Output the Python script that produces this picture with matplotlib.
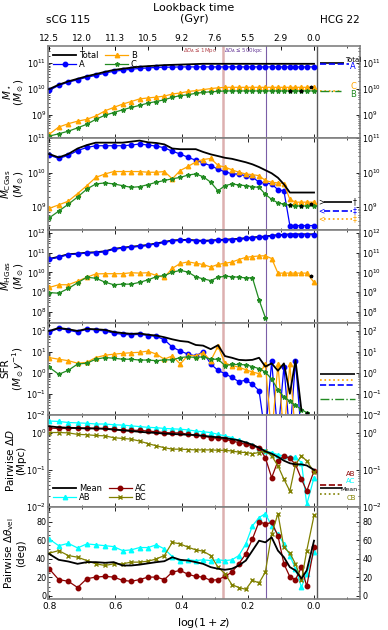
import numpy as np
import matplotlib
matplotlib.use("Agg")
import matplotlib.pyplot as plt
from matplotlib.ticker import LogLocator, NullFormatter, MultipleLocator

# snapshot positions in log(1+z)
logz = [0.800, 0.771, 0.742, 0.714, 0.686, 0.659, 0.631, 0.605, 0.578, 0.552,
        0.527, 0.501, 0.476, 0.452, 0.428, 0.404, 0.380, 0.357, 0.335, 0.312,
        0.290, 0.269, 0.248, 0.227, 0.206, 0.186, 0.166, 0.147, 0.128, 0.109,
        0.091, 0.073, 0.056, 0.038, 0.022, 0.000]
nan = np.nan

# --- stellar mass (log10 Msun)
mstar_tot = [10.00, 10.17, 10.30, 10.40, 10.50, 10.58, 10.67, 10.74, 10.79, 10.83,
             10.87, 10.89, 10.91, 10.93, 10.94, 10.95, 10.96, 10.97, 10.98, 10.98,
             10.98, 10.98, 10.98, 10.98, 10.98, 10.98, 10.98, 10.98, 10.98, 10.98,
             10.98, 10.98, 10.98, 10.98, 10.98, 10.98]
mstar_A = [9.95, 10.14, 10.27, 10.36, 10.46, 10.53, 10.62, 10.69, 10.73, 10.77,
           10.80, 10.82, 10.84, 10.85, 10.85, 10.86, 10.86, 10.86, 10.86, 10.86,
           10.86, 10.86, 10.86, 10.86, 10.86, 10.86, 10.86, 10.86, 10.86, 10.86,
           10.86, 10.86, 10.86, 10.86, 10.86, 10.86]
mstar_B = [8.25, 8.53, 8.66, 8.76, 8.83, 8.96, 9.16, 9.29, 9.42, 9.52,
           9.62, 9.66, 9.69, 9.73, 9.81, 9.85, 9.91, 9.94, 9.98, 10.02,
           10.05, 10.07, 10.07, 10.07, 10.07, 10.07, 10.07, 10.07, 10.07, 10.07,
           10.07, 10.07, 10.07, 10.07, 10.07, 10.07]
mstar_C = [8.18, 8.27, 8.37, 8.50, 8.64, 8.83, 8.99, 9.09, 9.20, 9.29,
           9.37, 9.46, 9.52, 9.59, 9.68, 9.75, 9.78, 9.84, 9.87, 9.90,
           9.91, 9.93, 9.93, 9.93, 9.93, 9.93, 9.93, 9.93, 9.93, 9.93,
           9.93, 9.93, 9.93, 9.93, 9.93, 9.93]

# --- cold gas mass
cgas_tot = [10.54, 10.44, 10.54, 10.70, 10.80, 10.87, 10.87, 10.87, 10.87, 10.90,
            10.93, 10.88, 10.86, 10.82, 10.70, 10.68, 10.68, 10.68, 10.60, 10.53,
            10.48, 10.43, 10.40, 10.35, 10.30, 10.24, 10.16, 10.07, 9.98, 9.85,
            9.66, 9.42, 9.42, 9.42, 9.42, 9.42]
cgas_A = [10.51, 10.41, 10.50, 10.64, 10.73, 10.78, 10.78, 10.78, 10.78, 10.80,
          10.83, 10.80, 10.77, 10.72, 10.62, 10.54, 10.44, 10.36, 10.28, 10.20,
          10.10, 10.02, 9.97, 9.95, 9.91, 9.87, 9.72, 9.70, 9.67, 9.50,
          9.47, 8.46, 8.46, 8.46, 8.46, 8.46]
cgas_B = [8.96, 9.06, 9.17, 9.39, 9.62, 9.86, 9.96, 10.03, 10.03, 10.03,
          10.03, 10.01, 10.01, 10.03, 9.82, 10.06, 10.18, 10.31, 10.38, 10.41,
          10.21, 10.16, 10.08, 10.01, 9.96, 9.94, 9.91, 9.77, 9.72, 9.70,
          9.68, 9.22, 9.14, 9.14, 9.14, 9.14]
cgas_C = [8.68, 8.88, 9.08, 9.29, 9.52, 9.67, 9.70, 9.67, 9.62, 9.57,
          9.59, 9.65, 9.72, 9.77, 9.82, 9.86, 9.93, 9.96, 9.88, 9.72,
          9.47, 9.62, 9.67, 9.64, 9.62, 9.59, 9.57, 9.37, 9.22, 9.12,
          9.08, 9.05, 9.03, 9.03, 9.03, 9.03]

# --- hot gas mass
hgas_tot = [10.68, 10.79, 10.92, 10.95, 11.00, 11.02, 11.07, 11.19, 11.25, 11.30,
            11.34, 11.39, 11.47, 11.54, 11.62, 11.64, 11.65, 11.62, 11.60, 11.62,
            11.64, 11.66, 11.68, 11.70, 11.74, 11.77, 11.80, 11.82, 11.86, 11.89,
            11.91, 11.93, 11.93, 11.93, 11.93, 11.93]
hgas_A = [10.66, 10.77, 10.90, 10.93, 10.98, 11.00, 11.05, 11.17, 11.23, 11.28,
          11.32, 11.37, 11.45, 11.52, 11.60, 11.62, 11.63, 11.60, 11.58, 11.60,
          11.62, 11.64, 11.66, 11.68, 11.72, 11.75, 11.78, 11.80, 11.85, 11.88,
          11.90, 11.92, 11.92, 11.92, 11.92, 11.92]
hgas_B = [9.23, 9.37, 9.37, 9.55, 9.75, 9.92, 9.93, 9.93, 9.93, 9.98,
          9.96, 9.98, 9.84, 9.75, 10.20, 10.45, 10.53, 10.46, 10.40, 10.27,
          10.40, 10.46, 10.52, 10.65, 10.76, 10.80, 10.83, 10.84, 10.70, 9.96,
          9.96, 9.96, 9.96, 9.96, 9.96, 9.49]
hgas_C = [8.97, 8.94, 9.18, 9.47, 9.75, 9.70, 9.50, 9.37, 9.40, 9.40,
          9.49, 9.62, 9.78, 9.84, 10.00, 10.10, 10.01, 9.77, 9.67, 9.58,
          9.75, 9.80, 9.78, 9.75, 9.72, 9.72, 8.60, 7.70, nan, nan,
          nan, nan, nan, nan, nan, nan]

# --- star formation rate (log10 Msun/yr, -3 = no SF)
sfr_tot = [2.00, 2.14, 2.08, 2.00, 2.10, 2.08, 2.05, 1.95, 1.90, 1.86,
           1.88, 1.82, 1.78, 1.70, 1.60, 1.52, 1.48, 1.33, 1.30, 1.13,
           1.32, 0.80, 0.72, 0.62, 0.60, 0.62, 0.72, 0.30, 0.45, 0.10,
           0.45, -1.00, 0.60, -1.80, nan, nan]
sfr_A = [1.94, 2.12, 2.04, 1.94, 2.09, 2.04, 2.00, 1.89, 1.84, 1.81,
         1.84, 1.78, 1.74, 1.58, 1.23, 1.04, 0.89, 0.81, 1.01, 0.42,
         0.12, -0.04, -0.22, -0.42, -0.35, -0.55, -0.85, -3, 0.55, -3,
         0.30, -3, 0.55, -3, -3, -3]
sfr_B = [0.73, 0.65, 0.58, 0.46, 0.50, 0.73, 0.84, 0.89, 0.93, 0.96,
         0.98, 1.04, 0.89, 0.65, 0.81, 0.42, 0.85, 0.81, 0.96, 0.58,
         1.27, 0.46, 0.35, 0.27, 0.15, 0.04, -0.04, 0.40, -3, 0.40,
         -3, 0.40, -3, -3, nan, nan]
sfr_C = [0.27, -0.07, 0.12, 0.42, 0.46, 0.65, 0.73, 0.70, 0.65, 0.65,
         0.61, 0.61, 0.58, 0.62, 0.62, 0.73, 0.77, 0.73, 0.77, 0.65,
         0.65, 0.35, 0.40, 0.40, 0.38, 0.30, 0.20, 0.04, -0.30, -0.80,
         -1.15, -1.35, -1.55, -1.75, -1.90, nan]

# --- pairwise distance (log10 Mpc)
dd_mean = [0.18, 0.15, 0.14, 0.13, 0.12, 0.12, 0.11, 0.09, 0.07, 0.05,
           0.03, 0.01, 0.00, -0.02, -0.03, -0.04, -0.05, -0.06, -0.08, -0.10,
           -0.12, -0.14, -0.17, -0.20, -0.26, -0.32, -0.40, -0.50, -0.56, -0.65,
           -0.75, -0.82, -0.85, -0.85, -0.88, -1.00]
dd_AB = [0.32, 0.31, 0.28, 0.27, 0.26, 0.24, 0.24, 0.22, 0.21, 0.19,
         0.17, 0.15, 0.14, 0.12, 0.11, 0.10, 0.08, 0.05, 0.03, 0.01,
         -0.04, -0.08, -0.13, -0.20, -0.26, -0.33, -0.41, -0.49, -0.53, -0.59,
         -0.62, -0.66, -0.66, -0.80, -1.93, -1.21]
dd_AC = [0.13, 0.12, 0.12, 0.13, 0.13, 0.12, 0.12, 0.10, 0.08, 0.07,
         0.07, 0.05, 0.03, 0.01, 0.00, 0.00, -0.04, -0.06, -0.08, -0.13,
         -0.15, -0.17, -0.22, -0.26, -0.31, -0.35, -0.40, -0.67, -1.21, -0.76,
         -0.62, -0.69, -0.85, -1.25, -1.57, -1.03]
dd_BC = [0.01, 0.01, 0.00, -0.04, -0.05, -0.07, -0.08, -0.13, -0.15, -0.17,
         -0.22, -0.29, -0.35, -0.40, -0.44, -0.44, -0.45, -0.46, -0.46, -0.46,
         -0.47, -0.47, -0.49, -0.52, -0.53, -0.56, -0.53, -0.49, -0.62, -0.89,
         -1.25, -1.57, -0.85, -0.62, -0.76, -1.05]

# --- pairwise velocity angle (deg)
th_mean = [45.2, 38.8, 37.0, 34.5, 36.3, 36.3, 35.6, 36.3, 32.7, 32.7,
           33.6, 35.0, 36.3, 37.3, 41.6, 38.8, 38.0, 36.3, 34.5, 30.9,
           29.2, 28.1, 29.2, 32.7, 38.0, 48.7, 59.4, 57.6, 63.0, 48.7,
           41.6, 30.9, 27.4, 18.5, 27.4, 59.4]
th_AB = [61.2, 54.0, 56.5, 51.6, 55.9, 55.0, 54.0, 53.0, 48.7, 49.5,
         52.0, 52.0, 55.0, 50.5, 42.3, 37.0, 38.8, 38.0, 38.8, 38.0,
         38.8, 38.0, 38.8, 43.4, 55.9, 75.4, 84.3, 88.5, 75.4, 66.5,
         55.9, 43.4, 29.2, 9.6, 23.9, 47.0]
th_AC = [29.2, 17.5, 15.7, 9.0, 18.5, 20.2, 21.0, 20.2, 16.7, 15.7,
         17.5, 20.2, 20.2, 17.5, 25.6, 27.4, 23.1, 21.0, 20.2, 16.7,
         17.5, 21.0, 25.6, 34.5, 45.2, 61.2, 80.0, 77.2, 79.0, 64.7,
         34.5, 20.6, 17.5, 30.9, 10.3, 52.3]
th_BC = [45.9, 48.7, 43.4, 41.6, 38.0, 34.5, 32.7, 34.5, 34.5, 36.3,
         36.3, 37.3, 39.8, 43.4, 57.6, 55.9, 52.3, 49.5, 48.1, 43.4,
         30.9, 23.9, 12.1, 9.0, 7.0, 16.7, 13.9, 25.6, 66.5, 88.5,
         52.3, 45.9, 34.5, 16.7, 48.7, 86.5]

# merger markers (log10 values)
merge_x = [0.073, 0.038, 0.008]
merge_mstar = [9.93, 9.93, 10.10]
merge_cgas = [9.05, 9.03, 9.10]

# HCG 22 observed values (log10)
hcg_mstar = {"Total": 11.03, "A": 10.96, "B": 9.94, "C": 9.94}
hcg_cgas = {"Total": 9.15, "A": 8.88, "B": 8.66}
hcg_sfr = {"Total": -0.07, "B": -0.32, "A": -0.58, "C": -1.27}
hcg_dd = {"AB": -1.41, "Mean": -1.48, "CB": -1.64}

top_ticks = [0.8, 0.7, 0.6, 0.5, 0.4, 0.3, 0.2, 0.1, 0.0]
lookback = ["12.5", "12.0", "11.3", "10.5", "9.2", "7.6", "5.5", "2.9", "0.0"]

plt.rcParams['font.family'] = 'DejaVu Sans'
plt.rcParams['mathtext.fontset'] = 'dejavusans'

x = np.array(logz)
lin = lambda v: 10 ** np.array(v, dtype=float)

fig = plt.figure(figsize=(3.88, 6.3), dpi=100)
axes = fig.subplots(6, 1, sharex=True, gridspec_kw=dict(hspace=0))
fig.subplots_adjust(left=0.124, right=0.928, top=0.927, bottom=0.049)
for ax in axes[:5]:
    ax.set_yscale('log')

cA, cB, cC = 'blue', 'orange', 'forestgreen'
cAB, cAC, cBC = 'cyan', '#8b0000', '#808000'
ms = 3.2
kw = dict(lw=0.9, ms=ms)

# panel 1: stellar mass
ax = axes[0]
ax.plot(x, lin(mstar_tot), color='k', lw=1.3, label='Total', zorder=3)
ax.plot(x, lin(mstar_A), '-o', color=cA, label='A', **kw)
ax.plot(x, lin(mstar_B), '-^', color=cB, label='B', **kw)
ax.plot(x, lin(mstar_C), '-*', color=cC, label='C', **kw)
ax.plot(merge_x, lin(merge_mstar), '*', color='k', ms=2.5, zorder=5)
ax.hlines(lin(hcg_mstar["Total"]), -0.018, -0.092, color='k', lw=1.2)
ax.hlines(lin(hcg_mstar["A"]), -0.018, -0.105, color=cA, lw=1.2, ls='--')
ax.hlines(lin(hcg_mstar["B"]), -0.018, -0.08, color=cB, lw=1.2, ls=':')
ax.hlines(lin(hcg_mstar["C"]), -0.018, -0.08, color=cC, lw=1.0, ls='-.')
ax.text(-0.095, lin(11.12), 'Total', fontsize=5, color='k', ha='left', va='center')
ax.text(-0.118, lin(10.86), 'A', fontsize=6, color=cA, ha='center', va='center')
ax.text(-0.118, lin(10.1), 'C', fontsize=6, color=cB, ha='center', va='center')
ax.text(-0.118, lin(9.8), 'B', fontsize=6, color=cC, ha='center', va='center')
ax.set_ylim(10 ** 8.1, 10 ** 11.67)
ax.set_ylabel('$M_\\star$\n$(M_\\odot)$', fontsize=7.5)
ax.legend(loc='upper left', ncol=2, fontsize=6, frameon=False, handlelength=2.8,
          columnspacing=0.8, labelspacing=0.05, borderaxespad=0.2, handletextpad=0.3)
ax.text(0.292, lin(11.5), '$\\Delta D_{\\rm A}\\leq 1$Mpc', fontsize=4.0,
        color='#b5484f', ha='right', va='center')
ax.text(0.154, lin(11.5), '$\\Delta D_{\\rm A}\\leq 500$kpc', fontsize=4.0,
        color='#6a3d9a', ha='right', va='center')

# panel 2: cold gas
ax = axes[1]
ax.plot(x, lin(cgas_tot), color='k', lw=1.3, zorder=3)
ax.plot(x, lin(cgas_A), '-o', color=cA, **kw)
ax.plot(x, lin(cgas_B), '-^', color=cB, **kw)
ax.plot(x, lin(cgas_C), '-*', color=cC, **kw)
ax.plot(merge_x, lin(merge_cgas), '*', color='k', ms=2.5, zorder=5)
ax.hlines(lin(hcg_cgas["Total"]), -0.03, -0.115, color='k', lw=1.2)
ax.hlines(lin(hcg_cgas["A"]), -0.03, -0.115, color=cA, lw=1.2, ls='--')
ax.hlines(lin(hcg_cgas["B"]), -0.03, -0.115, color=cB, lw=1.2, ls=':')
for key, col in [("Total", 'k'), ("A", cA), ("B", cB)]:
    ax.text(-0.022, lin(hcg_cgas[key]), '>' if key == "Total" else '<',
            fontsize=5.5, color=col, ha='center', va='center')
    ax.text(-0.124, lin(hcg_cgas[key]), '\u2020' if key == "Total" else '\u2021',
            fontsize=5.5, color=col, ha='center', va='center')
ax.set_ylim(10 ** 8.32, 10 ** 11.0)
ax.set_ylabel('$M_{\\rm CGas}$\n$(M_\\odot)$', fontsize=7.5)

# panel 3: hot gas
ax = axes[2]
ax.plot(x, lin(hgas_tot), color='k', lw=1.3, zorder=1)
ax.plot(x, lin(hgas_A), '-o', color=cA, **kw)
ax.plot(x, lin(hgas_B), '-^', color=cB, **kw)
ax.plot(x, lin(hgas_C), '-*', color=cC, **kw)
ax.plot([0.008], lin([9.80]), '*', color='k', ms=2.5, zorder=5)
ax.set_ylim(10 ** 7.45, 10 ** 12.13)
ax.set_ylabel('$M_{\\rm HGas}$\n$(M_\\odot)$', fontsize=7.5)

# panel 4: SFR
ax = axes[3]
ax.plot(x, lin(sfr_tot), color='k', lw=1.3, zorder=3)
ax.plot(x, lin(sfr_A), '-o', color=cA, **kw)
ax.plot(x, lin(sfr_B), '-^', color=cB, **kw)
ax.plot(x, lin(sfr_C), '-*', color=cC, **kw)
ax.plot([0.022], lin([-1.9]), '.', color='k', ms=3, zorder=5)
ax.hlines(lin(hcg_sfr["Total"]), -0.018, -0.125, color='k', lw=1.2)
ax.hlines(lin(hcg_sfr["B"]), -0.018, -0.125, color=cB, lw=1.2, ls=':')
ax.hlines(lin(hcg_sfr["A"]), -0.018, -0.125, color=cA, lw=1.2, ls='--')
ax.hlines(lin(hcg_sfr["C"]), -0.018, -0.125, color=cC, lw=1.0, ls='-.')
ax.set_ylim(1e-2, 10 ** 2.4)
ax.set_ylabel('SFR\n$(M_\\odot y^{-1})$', fontsize=7.5)

# panel 5: pairwise distance
ax = axes[4]
ax.plot(x, lin(dd_mean), color='k', lw=1.3, label='Mean', zorder=3)
ax.plot(x, lin(dd_AB), '-^', color=cAB, label='AB', **kw)
ax.plot(x, lin(dd_AC), '-o', color=cAC, label='AC', **kw)
ax.plot(x, lin(dd_BC), '-x', color=cBC, label='BC', **kw)
ax.hlines(lin(hcg_dd["AB"]), -0.018, -0.085, color=cAC, lw=1.2, ls='--')
ax.hlines(lin(hcg_dd["Mean"]), -0.018, -0.085, color='k', lw=1.2)
ax.hlines(lin(hcg_dd["CB"]), -0.018, -0.085, color=cBC, lw=1.2, ls=':')
ax.text(-0.112, lin(-1.11), 'AB', fontsize=5, color=cAC, ha='center', va='center')
ax.text(-0.112, lin(-1.31), 'AC', fontsize=5, color=cAB, ha='center', va='center')
ax.text(-0.105, lin(-1.52), 'Mean', fontsize=4.5, color='k', ha='center', va='center')
ax.text(-0.112, lin(-1.75), 'CB', fontsize=5, color=cBC, ha='center', va='center')
ax.set_ylim(1e-2, 10 ** 0.49)
ax.set_ylabel('Pairwise $\\Delta D$\n(Mpc)', fontsize=7.5)
ax.legend(loc='lower left', ncol=2, fontsize=6, frameon=False, handlelength=2.8,
          columnspacing=0.8, labelspacing=0.05, borderaxespad=0.2, handletextpad=0.3)

# panel 6: velocity angle
ax = axes[5]
ax.plot(x, th_mean, color='k', lw=1.3, zorder=3)
ax.plot(x, th_AB, '-^', color=cAB, **kw)
ax.plot(x, th_AC, '-o', color=cAC, **kw)
ax.plot(x, th_BC, '-x', color=cBC, **kw)
ax.set_ylim(-3.5, 95.7)
ax.yaxis.set_major_locator(MultipleLocator(20))
ax.yaxis.set_minor_locator(MultipleLocator(5))
ax.set_ylabel('Pairwise $\\Delta\\theta_{\\rm vel}$\n(deg)', fontsize=7.5)
ax.set_xlabel('$\\log(1+z)$', fontsize=8)

for i, ax in enumerate(axes):
    ax.axvline(0.276, color='#ddb0b0', lw=1.8, zorder=0)
    ax.axvline(0.145, color='#7b5ea7', lw=0.8, zorder=0)
    ax.axvline(-0.01, color='0.35', lw=1.0, zorder=0)
    if i < 5:
        ax.yaxis.set_major_locator(LogLocator(base=10, numticks=15))
        ax.yaxis.set_minor_locator(LogLocator(base=10, subs=np.arange(2, 10), numticks=15))
        ax.yaxis.set_minor_formatter(NullFormatter())
    ax.tick_params(axis='both', which='both', direction='in', top=True, right=True,
                   labelright=True, pad=2)
    ax.tick_params(axis='x', labelsize=6.5)
    ax.tick_params(axis='y', labelsize=5.8, pad=1.5)
    ax.tick_params(which='major', length=3, width=0.6)
    ax.tick_params(which='minor', length=1.5, width=0.5)
    for sp in ax.spines.values():
        sp.set_color('0.5')
        sp.set_linewidth(1.2)
    ax.yaxis.label.set_linespacing(1.0)
    ax.yaxis.set_label_coords(-0.07, 0.5)

axes[-1].set_xlim(0.803, -0.139)
axes[-1].xaxis.set_major_locator(MultipleLocator(0.2))
axes[-1].xaxis.set_minor_locator(MultipleLocator(0.1))

sec = axes[0].secondary_xaxis('top')
sec.set_xticks(top_ticks, labels=lookback)
sec.tick_params(labelsize=6.5, direction='in', length=3, width=0.6, pad=2)
sec.spines['top'].set_visible(False)

fig.text(0.5, 0.979, 'Lookback time\n(Gyr)', fontsize=8, ha='center', va='center',
         linespacing=1.1)
fig.text(0.175, 0.968, 'sCG 115', fontsize=7.5, ha='center', va='center')
fig.text(0.876, 0.968, 'HCG 22', fontsize=7.5, ha='center', va='center')

fig.savefig('out.png', dpi=100)
